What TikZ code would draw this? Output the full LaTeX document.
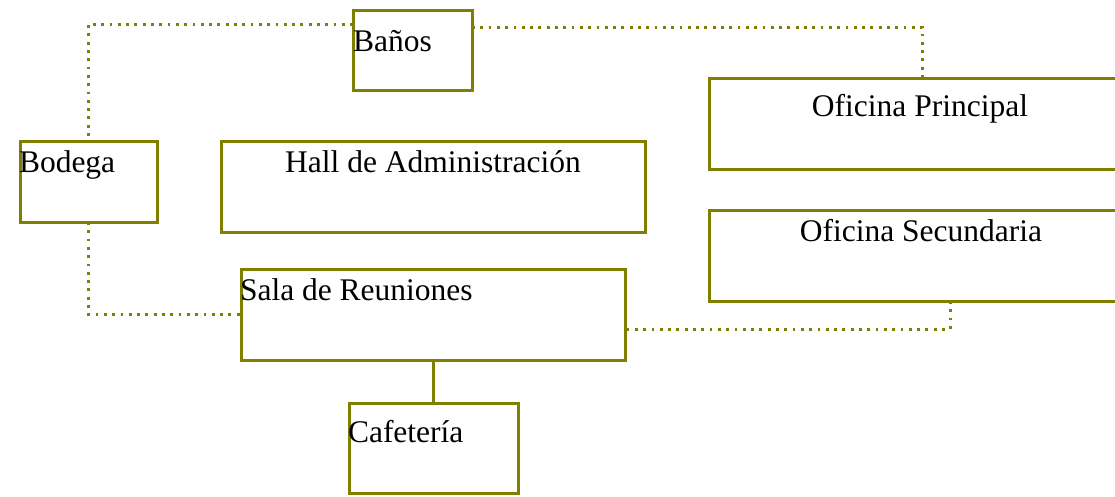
\documentclass[tikz,border=0pt]{standalone}
\usepackage{fontspec}
\setmainfont{Liberation Serif}
\usetikzlibrary{calc}
\definecolor{olivebox}{RGB}{128,128,0}
\tikzset{
  room/.style={draw=olivebox, line width=3pt, rectangle, inner sep=0pt, outer sep=0pt, fill=none},
  lbl/.style={inner sep=0pt, outer sep=0pt, font=\fontsize{31.5}{36}\selectfont, text=black},
  dotlink/.style={draw=olivebox, line width=3pt, dash pattern=on 2.8pt off 5.5pt},
  solidlink/.style={draw=olivebox, line width=3pt},
}
\begin{document}
\begin{tikzpicture}[x=1pt,y=-1pt]
\useasboundingbox (0,0) rectangle (1115,496);
\clip (0,0) rectangle (1115,496);
% rooms
\node[room, minimum width=119pt, minimum height=80pt] (banos) at (412.5,50) {};
\node[room, minimum width=137pt, minimum height=81pt] (bodega) at (88.5,181.5) {};
\node[room, minimum width=424pt, minimum height=91pt] (hall) at (433,186.5) {};
\node[room, minimum width=384pt, minimum height=91pt] (sala) at (433,314.5) {};
\node[room, minimum width=169pt, minimum height=90pt] (cafe) at (433.5,448) {};
\node[room, minimum width=426pt, minimum height=91pt] (ofp) at (922,123.5) {};
\node[room, minimum width=426pt, minimum height=91pt] (ofs) at (922,255.5) {};
% connectors
\draw[dotlink] ([yshift=-14pt]banos.north west) -| (bodega.north);
\draw[dotlink] ([yshift=-17pt]banos.north east) -| (ofp.north);
\draw[dotlink] (bodega.south) |- (sala.west);
\coordinate (ofsdrop) at ([xshift=28pt]ofs.south);
\draw[dotlink] (ofsdrop) |- ([yshift=-14.5pt]sala.east);
\draw[solidlink] (sala.south) -- (sala.south |- cafe.north);
% labels
\node[lbl, anchor=base west] (banosT) at ([yshift=-41pt]banos.north west) {Baños};
\node[lbl, anchor=base west] (bodegaT) at ([xshift=-1pt,yshift=-31pt]bodega.north west) {Bodega};
\node[lbl, anchor=base] (hallT) at ([yshift=-31pt]hall.north) {Hall de Administración};
\node[lbl, anchor=base] (ofpT) at ([xshift=-2pt,yshift=-38pt]ofp.north) {Oficina Principal};
\node[lbl, anchor=base] (ofsT) at ([xshift=-1pt,yshift=-31pt]ofs.north) {Oficina Secundaria};
\node[lbl, anchor=base west] (salaT) at ([xshift=-1pt,yshift=-31pt]sala.north west) {Sala de Reuniones};
\node[lbl, anchor=base west] (cafeT) at ([xshift=-1pt,yshift=-39pt]cafe.north west) {Cafetería};
\end{tikzpicture}
\end{document}
